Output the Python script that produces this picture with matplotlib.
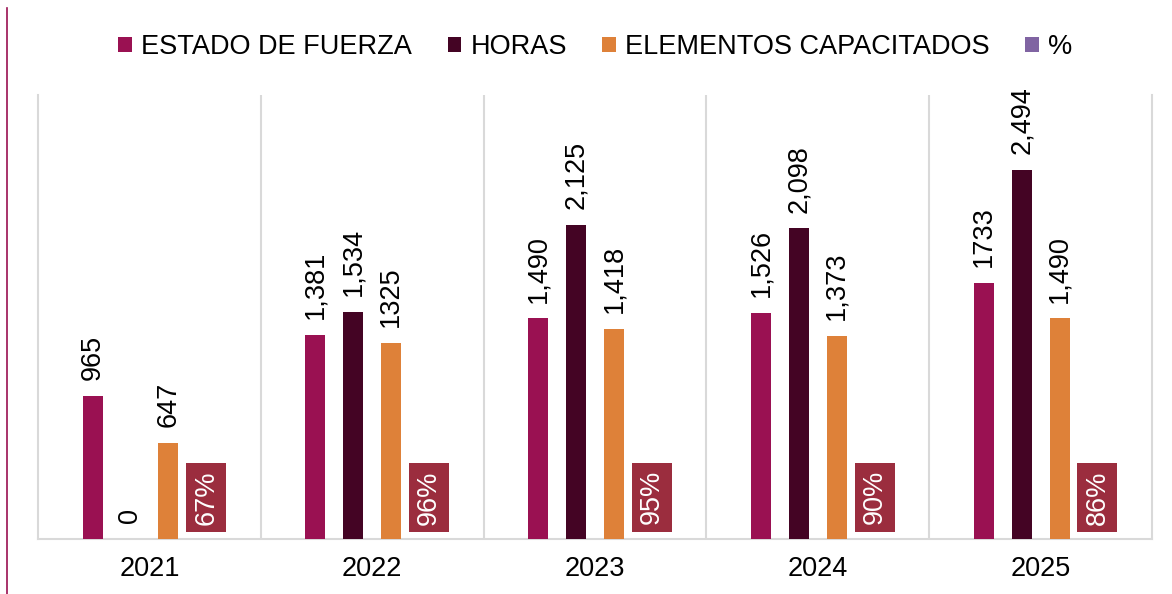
import matplotlib
matplotlib.use("Agg")
import matplotlib.pyplot as plt
from matplotlib.lines import Line2D
import numpy as np

plt.rcParams['font.family'] = ['Liberation Sans', 'DejaVu Sans']

years = ["2021", "2022", "2023", "2024", "2025"]
estado_fuerza = [965, 1381, 1490, 1526, 1733]
horas = [0, 1534, 2125, 2098, 2494]
elementos = [647, 1325, 1418, 1373, 1490]
porcentaje = [0.67, 0.96, 0.95, 0.90, 0.86]

lbl_estado = ["965", "1,381", "1,490", "1,526", "1733"]
lbl_horas = ["0", "1,534", "2,125", "2,098", "2,494"]
lbl_elem = ["647", "1325", "1,418", "1,373", "1,490"]
lbl_pct = ["67%", "96%", "95%", "90%", "86%"]

series_names = ["ESTADO DE FUERZA", "HORAS", "ELEMENTOS CAPACITADOS", "%"]
colors = ["#9A1152", "#440424", "#DE8139", "#8064A2"]
pct_box = "#9B2D3E"

fig = plt.figure(figsize=(11.72, 5.94), dpi=100)
ax = fig.add_axes([38/1172, 55/594, (1152-38)/1172, (539-95)/594])

x = np.arange(len(years))
sp = 0.17
w = 0.09
offs = [-1.5*sp, -0.5*sp, 0.5*sp, 1.5*sp]
data = [estado_fuerza, horas, elementos, porcentaje]
labels = [lbl_estado, lbl_horas, lbl_elem]
bars = []
for i in range(4):
    b = ax.bar(x + offs[i], data[i], width=w, color=colors[i], label=series_names[i], zorder=3)
    bars.append(b)

fs = 19.5
for i in range(3):
    for j, rect in enumerate(bars[i]):
        ax.annotate(labels[i][j], xy=(rect.get_x() + rect.get_width()/2, rect.get_height()),
                    xytext=(0, 11.5), textcoords="offset points", rotation=90,
                    ha="center", va="bottom", fontsize=fs, color="black")

for j, rect in enumerate(bars[3]):
    ax.annotate(lbl_pct[j], xy=(rect.get_x() + rect.get_width()/2, 0),
                xytext=(0, 30), textcoords="offset points", rotation=90,
                ha="center", va="center", fontsize=fs, color="white",
                bbox=dict(boxstyle="square,pad=0.26", fc=pct_box, ec="none"), zorder=4)

ax.set_xlim(-0.5, len(years) - 0.5)
ax.set_ylim(0, 3000)
ax.set_xticks(x)
ax.set_xticklabels(years, fontsize=fs)
ax.set_xticks(np.arange(0.5, len(years) - 0.5, 1), minor=True)
ax.tick_params(axis='x', which='both', length=0, pad=12)
ax.set_yticks([])
ax.grid(axis='x', which='minor', color="#D9D9D9", linewidth=1.5, zorder=0)
for s in ["left", "right", "bottom"]:
    ax.spines[s].set_color("#D9D9D9")
    ax.spines[s].set_linewidth(1.5)
ax.spines["top"].set_visible(False)

fig.legend(handles=bars, labels=series_names, loc="center", bbox_to_anchor=(0.508, 0.921),
           ncol=4, frameon=False, fontsize=fs, handlelength=0.5, handleheight=0.5,
           handletextpad=0.35, columnspacing=1.3)

fig.add_artist(Line2D([6.5/1172, 6.5/1172], [0, 1 - 8/594], color="#9A1152", linewidth=1.2))

fig.savefig("out.png", dpi=100)
